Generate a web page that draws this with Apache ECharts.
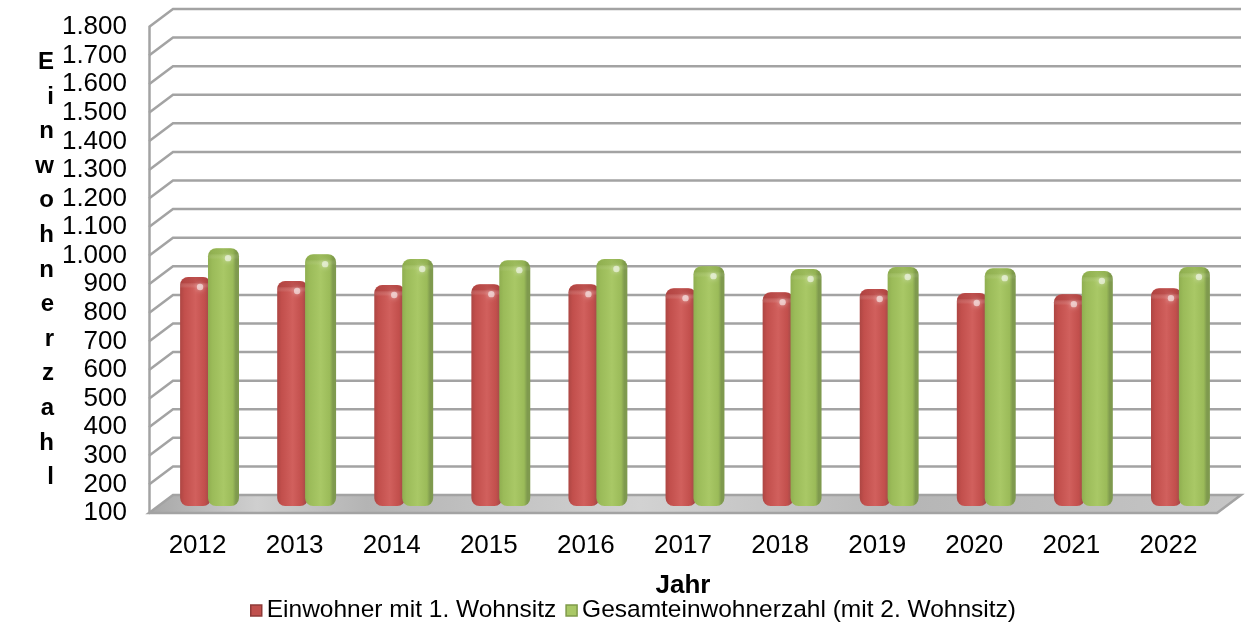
<!DOCTYPE html>
<html><head><meta charset="utf-8">
<style>html,body{margin:0;padding:0;background:#fff}#c{width:1245px;height:624px}</style>
<script src="https://cdn.jsdelivr.net/npm/echarts@6/dist/echarts.min.js"></script>
</head><body><div id="c"></div>
<script>
const years = ['2012','2013','2014','2015','2016','2017','2018','2019','2020','2021','2022'];
const erstwohnsitz = [901,887,873,876,876,862,848,859,845,841,862];
const gesamt = [1002,981,964,960,964,939,929,936,932,922,936];
const gridTicks = [100,200,300,400,500,600,700,800,900,1000,1100,1200,1300,1400,1500,1600,1700,1800];
const nameRed = 'Einwohner mit 1. Wohnsitz';
const nameGreen = 'Gesamteinwohnerzahl (mit 2. Wohnsitz)';
const FONT = '"Liberation Sans", Arial, sans-serif';
const DX = 24, DY = -18, WALL = '#a3a3a3';

function hGrad(a,b,c,d){return {type:'linear',x:0,y:0,x2:1,y2:0,colorStops:[
  {offset:0,color:a},{offset:.14,color:b},{offset:.5,color:c},{offset:.8,color:b},{offset:.9,color:d},{offset:1,color:d}]};}

const chart = echarts.init(document.getElementById('c'),null,{renderer:'canvas'});

function wallItem(params, api){
  const v = api.value(0), cs = params.coordSys, y = api.coord([0,v])[1];
  const x0 = cs.x, x1 = cs.x+cs.width;
  if (v === gridTicks[0]) {
    return {type:'polygon',shape:{points:[[x0,y],[x0+DX,y+DY],[x1+DX,y+DY],[x1,y]]},
       style:{fill:{type:'linear',x:0,y:0,x2:1,y2:0,colorStops:[
         {offset:0,color:'#a6a6a6'},{offset:.1,color:'#cfcfcf'},{offset:.2,color:'#b4b4b4'},{offset:.45,color:'#d2d2d2'},
         {offset:.7,color:'#b6b6b6'},{offset:1,color:'#c6c6c6'}]},stroke:WALL,lineWidth:2.5}};
  }
  return {type:'polyline',shape:{points:[[x0,y],[x0+DX,y+DY],[x1+DX,y+DY]]},
    style:{fill:null,stroke:WALL,lineWidth:2.5}};
}

function capItem(shift, capColor){
  return function(params, api){
    const p = api.coord([api.value(0),api.value(1)]);
    const x = p[0]+shift-15.5, y = p[1];
    return {type:'group',children:[
      {type:'rect',shape:{x:x,y:y,width:31,height:11,r:[9,9,0,0]},
       style:{fill:{type:'linear',x:0,y:0,x2:0,y2:1,colorStops:[{offset:0,color:capColor},{offset:.5,color:capColor},{offset:1,color:'rgba(255,255,255,0)'}]}}},
      {type:'circle',shape:{cx:x+20,cy:y+10,r:3.2},
       style:{fill:'rgba(255,255,255,.55)',shadowBlur:5,shadowColor:'rgba(255,255,255,.9)'}}
    ]};
  };
}

chart.setOption({
  animation:false,
  backgroundColor:'#fff',
  textStyle:{fontFamily:FONT},
  grid:[
    {left:149,right:28,top:27,bottom:111,containLabel:false},
    {left:161,right:16,top:20,bottom:118}
  ],
  xAxis:[
    {type:'category',gridIndex:0,data:years,axisLine:{show:false},axisTick:{show:false},
     axisLabel:{color:'#000',fontSize:26,fontFamily:FONT,margin:20},
     name:'Jahr',nameLocation:'middle',nameGap:60,
     nameTextStyle:{color:'#000',fontSize:26,fontWeight:'bold',fontFamily:FONT}},
    {type:'category',gridIndex:1,data:years,show:false}
  ],
  yAxis:[
    {type:'value',gridIndex:0,min:100,max:1800,interval:100,
     axisLine:{show:true,lineStyle:{color:WALL,width:2.5}},axisTick:{show:false},splitLine:{show:false},
     axisLabel:{color:'#000',fontSize:26,fontFamily:FONT,margin:22,
       formatter:v=>v>=1000?String(v).replace(/(\d)(\d{3})$/,'$1.$2'):String(v)},
     name:'E\ni\nn\nw\no\nh\nn\ne\nr\nz\na\nh\nl',nameLocation:'middle',nameRotate:0,nameGap:95,
     nameTextStyle:{color:'#000',fontSize:24,fontWeight:'bold',fontFamily:FONT,lineHeight:34.6}},
    {type:'value',gridIndex:1,min:100,max:1800,interval:100,show:false}
  ],
  legend:{
    data:[
      {name:nameRed,itemStyle:{color:'#c0504d',borderColor:'#8f3b39',borderWidth:1.5}},
      {name:nameGreen,itemStyle:{color:'#a9c866',borderColor:'#7f9a4a',borderWidth:1.5}}
    ],
    top:593,left:245,itemWidth:11,itemHeight:11,itemGap:9,icon:'rect',
    textStyle:{color:'#000',fontSize:24.5,fontFamily:FONT,padding:[0,0,0,0]}
  },
  series:[
    {type:'custom',name:'walls',xAxisIndex:0,yAxisIndex:0,clip:false,z:1,silent:true,
     data:gridTicks.map(v=>[v]),encode:{y:0},renderItem:wallItem},
    {type:'bar',name:nameRed,xAxisIndex:1,yAxisIndex:1,z:3,barWidth:31,barGap:'-10%',data:erstwohnsitz,
     itemStyle:{borderRadius:[8,8,8,8],color:hGrad('#ad4643','#c24f4c','#d1605d','#a94b49')}},
    {type:'bar',name:nameGreen,xAxisIndex:1,yAxisIndex:1,z:5,barWidth:31,barGap:'-10%',data:gesamt,
     itemStyle:{borderRadius:[8,8,8,8],color:hGrad('#8fae50','#9bbb59','#a9c866','#7f9a4e')}},
    {type:'custom',name:'capRed',xAxisIndex:1,yAxisIndex:1,clip:false,z:4,silent:true,
     data:erstwohnsitz.map((v,i)=>[i,v]),renderItem:capItem(-14,'rgba(165,60,58,.45)')},
    {type:'custom',name:'capGreen',xAxisIndex:1,yAxisIndex:1,clip:false,z:6,silent:true,
     data:gesamt.map((v,i)=>[i,v]),renderItem:capItem(14,'rgba(125,155,65,.3)')}
  ]
});
</script></body></html>
